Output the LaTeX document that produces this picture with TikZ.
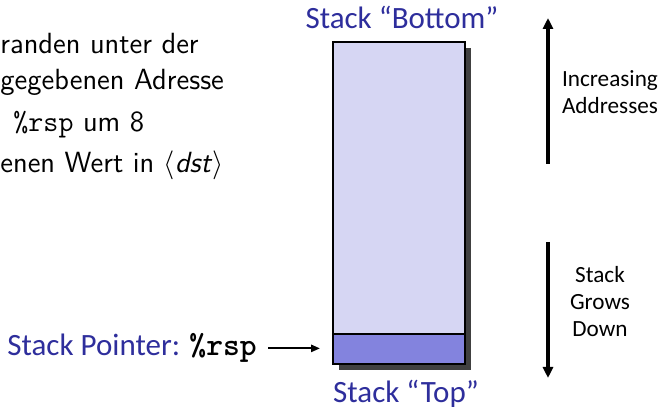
\documentclass[tikz,border=0pt]{standalone}
\usepackage{fontspec}
\newfontfamily\labelfont{Carlito}
\usetikzlibrary{arrows.meta,backgrounds,positioning}
\definecolor{stkBlue}{HTML}{2E2E9C}
\definecolor{stkLight}{HTML}{D6D6F3}
\definecolor{stkDark}{HTML}{8383DE}
\definecolor{stkShadow}{HTML}{404040}
\tikzset{
  stk diagram/.style={x=0.5pt, y=-0.5pt, line join=miter},
  stk cell/.style={draw=black, line width=1.3pt, minimum width=66pt,
    outer sep=0pt, inner sep=0pt},
  stk title/.style={font=\labelfont\fontsize{15.5}{18}\selectfont,
    text=stkBlue, inner sep=0pt},
  stk note/.style={font=\labelfont\fontsize{11.6}{13.5}\selectfont,
    align=center},
  stk text/.style={font=\sffamily\fontsize{14.6}{17}\selectfont,
    anchor=base west, inner sep=0pt},
  stk arrow/.style={-{Triangle[length=5.5pt,width=5pt]}, line width=1.8pt},
  stk pointer/.style={-{Triangle[length=4.5pt,width=3.6pt]}, line width=1pt}
}

\begin{document}
\begin{tikzpicture}[stk diagram]
\useasboundingbox (0,0) rectangle (660,410);
% text cut off at the left edge
\node[stk text] (popdescA) at (0,54) {randen unter der};
\node[stk text] (popdescB) at (0,90) {gegebenen Adresse};
\node[stk text] (popdescC) at (13,132) {\texttt{\%rsp} um 8};
\node[stk text] (popdescD) at (0,173) {enen Wert in $\langle$\textit{dst}$\rangle$};
% the stack
\node[stk cell, fill=stkLight, minimum height=146pt] (body) at (399,188) {};
\node[stk cell, fill=stkDark, minimum height=15pt, below=0pt of body] (slot) {};
\begin{scope}[on background layer]
\fill[stkShadow] ([shift={(6,6)}]body.north west) rectangle ([shift={(6,6)}]slot.south east);
\end{scope}
\node[stk title, anchor=base] (stackbottom) at (402,29) {Stack “Bottom”};
\node[stk title, anchor=base] (stacktop) at (406,403) {Stack “Top”};
\node[stk title, anchor=base west] (sp) at (7,356)
  {Stack Pointer: {\color{black}\ttfamily\bfseries\fontsize{16}{18}\selectfont\%rsp}};
\draw[stk pointer, shorten <=5.5pt, shorten >=6.5pt] (sp.east) -- (sp.east -| slot.west);
% direction arrows
\coordinate (upfoot) at (548,164);
\coordinate (uptip) at (548,18);
\coordinate (downfoot) at (548,242);
\coordinate (downtip) at (548,378);
\draw[stk arrow] (upfoot) -- (uptip);
\draw[stk arrow] (downfoot) -- (downtip);
\node[stk note] (addrnote) at (610,92) {Increasing\\Addresses};
\node[stk note] (grownote) at (600,302) {Stack\\Grows\\Down};
\end{tikzpicture}
\end{document}
